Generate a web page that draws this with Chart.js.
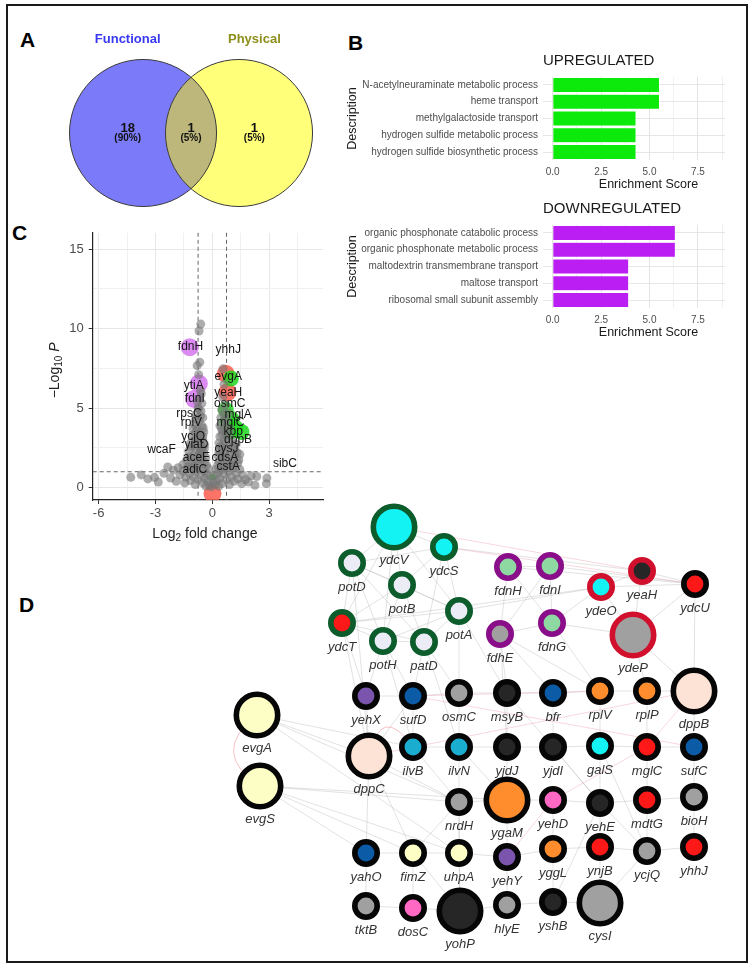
<!DOCTYPE html>
<html>
<head>
<meta charset="utf-8">
<script src="https://cdn.jsdelivr.net/npm/chart.js@4.4.1/dist/chart.umd.min.js"></script>
<style>
  body { margin: 0; background: #fff; width: 754px; height: 968px; position: relative; overflow: hidden; }
  #frame { position: absolute; left: 6px; top: 4px; width: 742px; height: 959px; border: 2px solid #1a1a1a; box-sizing: border-box; }
  canvas { position: absolute; }
  .tag { position: absolute; font: bold 21px "Liberation Sans", Arial, sans-serif; line-height: 1; color: #000; }
</style>
</head>
<body>
<div id="frame"></div>
<div class="tag" style="left:20px; top:29px;">A</div>
<div class="tag" style="left:348px; top:32px;">B</div>
<div class="tag" style="left:12px; top:222px;">C</div>
<div class="tag" style="left:19px; top:594px;">D</div>

<canvas id="venn" width="340" height="225" style="left:0; top:0;"></canvas>
<canvas id="up-chart" width="400" height="150" style="left:340px; top:45px;"></canvas>
<canvas id="down-chart" width="400" height="150" style="left:340px; top:193px;"></canvas>
<canvas id="net-chart" width="515" height="465" style="left:230px; top:495px;"></canvas>
<canvas id="volcano" width="290" height="325" style="left:40px; top:220px;"></canvas>

<script>
// ---- Panel A: Venn ----
const vennSets = ['Functional', 'Physical'];
const vennOnly = [18, 1];
const vennBoth = 1;

// ---- Panel B: enrichment ----
const upTerms = [
    'N-acetylneuraminate metabolic process',
    'heme transport',
    'methylgalactoside transport',
    'hydrogen sulfide metabolic process',
    'hydrogen sulfide biosynthetic process'
];
const upScores = [5.52, 5.52, 4.31, 4.31, 4.31];
const downTerms = [
    'organic phosphonate catabolic process',
    'organic phosphonate metabolic process',
    'maltodextrin transmembrane transport',
    'maltose transport',
    'ribosomal small subunit assembly'
];
const downScores = [6.34, 6.34, 3.93, 3.93, 3.93];
const scoreTicks = [0, 2.5, 5, 7.5];
const scoreGrid = [0, 1.25, 2.5, 3.75, 5, 6.25, 7.5, 8.75];

// ---- Panel C: volcano ----
const greyLFC = [
    -0.61, -0.70, -0.66, -0.80, -0.72, -0.62, -0.55, -0.75, -0.60, -0.85, -0.50, -0.70, -0.95, -0.55, -0.80,
    -0.45, -0.65, -1.05, -0.90, -0.50, -0.70, -1.15, -0.40, -0.60, -0.85, -1.25, -0.45, -0.70, -1.00, -0.35,
    -0.55, -1.35, -0.80, -0.40, -1.10, -0.65, -1.55, -0.30,
    -0.58, -0.68, -0.78, -0.88, -0.62, -0.75, -0.95, -0.58, -0.78, -0.90, -0.48, -0.66, -1.20, -0.52, -0.84,
    -1.02, -1.12, -0.98, -0.72, -0.50, -1.30, -0.42, -0.88, -0.64,
    0.57, 0.62, 0.55, 0.70, 0.50, 0.85, 0.45, 0.65, 0.40, 0.75, 0.55, 0.90, 0.40, 0.65, 1.05, 0.35,
    0.80, 0.50, 1.20, 0.35, 0.65, 0.95, 0.30, 0.50, 1.10, 0.75, 0.35, 1.35, 0.55, 0.90, 0.28,
    0.62, 0.78, 0.48, 0.82, 0.60, 0.90, 0.45, 0.70, 1.00, 0.60, 1.20, 1.45, 0.72, 0.52, 0.86,
    1.05, 1.25, 1.15, 0.95, 1.40, 0.68, 0.42, 1.30,
    -4.30, -3.75, -3.40, -3.05, -2.85, -2.55, -2.35, -2.20, -2.05, -1.90, -1.80, -1.70, -1.55, -1.45, -1.40,
    -1.30, -1.20, -1.15, -1.05, -1.00, -0.90, -0.85, -0.75, -0.65, -0.60, -0.50, -0.45, -0.40, -0.30, -0.25,
    -0.20, -0.15, -0.10, 0.10, 0.15, 0.20, 0.25, 0.30, 0.40, 0.45, 0.50, 0.60, 0.65, 0.75, 0.85,
    0.90, 1.00, 1.10, 1.15, 1.25, 1.35, 1.45, 1.55, 1.60, 1.75, 1.90, 2.05, 2.25, 2.35, 2.88,
    2.85, -0.05, 0.05, -0.35, 0.35
];
const greyLogP = [
    10.28, 9.85, 7.88, 7.67, 7.10, 6.10, 5.30, 5.00, 4.80, 4.60, 4.40, 4.20, 4.00, 3.90, 3.70,
    3.50, 3.40, 3.30, 3.10, 3.00, 2.90, 2.80, 2.70, 2.50, 2.40, 2.30, 2.20, 2.10, 2.00, 1.90,
    1.80, 1.75, 1.70, 1.60, 1.55, 1.50, 1.45, 1.40,
    5.90, 5.60, 5.40, 4.30, 4.50, 3.20, 2.60, 2.30, 1.90, 1.25, 3.75, 3.05, 1.95, 2.55, 3.55,
    3.70, 2.55, 1.45, 4.95, 3.25, 1.30, 2.45, 2.95, 2.25,
    7.47, 6.50, 5.70, 5.20, 4.90, 4.70, 4.40, 4.20, 3.90, 3.80, 3.60, 3.30, 3.20, 3.00, 2.90, 2.80,
    2.60, 2.50, 2.40, 2.30, 2.20, 2.10, 2.00, 1.85, 1.80, 1.70, 1.65, 1.55, 1.50, 1.45, 1.40,
    4.60, 4.30, 3.70, 3.05, 2.75, 2.35, 2.10, 1.95, 1.60, 1.30, 2.00, 2.10, 3.45, 3.35, 1.25,
    2.55, 2.75, 1.40, 3.70, 1.75, 4.00, 2.60, 2.20,
    0.65, 0.80, 0.55, 0.65, 0.35, 0.90, 1.30, 0.60, 1.10, 0.40, 1.25, 0.80, 1.05, 0.30, 0.65,
    1.20, 0.90, 0.45, 1.30, 0.70, 0.20, 1.00, 0.50, 1.25, 0.80, 0.30, 1.05, 0.60, 0.90, 0.40,
    1.20, 0.15, 0.70, 0.75, 0.20, 1.15, 0.45, 0.95, 0.60, 1.10, 0.25, 0.85, 1.30, 0.50, 1.00,
    0.20, 0.70, 1.25, 0.40, 0.90, 0.55, 1.15, 0.25, 0.80, 0.50, 0.35, 0.75, 0.15, 0.70, 0.60,
    0.25, 0.05, 0.30, 0.10, 0.10
];
const purpleLFC = [-1.19, -0.71, -0.96];
const purpleLogP = [8.83, 6.55, 5.58];
const redLFC = [0.71, 0.80, 0.01];
const redLogP = [7.16, 6.00, -0.37];
const greenLFC = [0.98, 0.71, 1.01, 1.24, 0.92, 1.54, 0.78, 0.01];
const greenLogP = [6.86, 4.89, 4.31, 3.74, 3.50, 3.50, 4.11, 0.65];
const geneLabels = ['fdnH', 'yhhJ', 'evgA', 'ytiA', 'yeaH', 'fdnI', 'osmC', 'rpsC', 'mglA', 'rplV', 'mglC',
    'kbp', 'ycjQ', 'dppB', 'yiaD', 'wcaF', 'cysJ', 'aceE', 'cdsA', 'sibC', 'adiC', 'cstA'];
const labelLFC = [-1.15, 0.84, 0.84, -0.98, 0.84, -0.92, 0.92, -1.23, 1.36, -1.10, 0.96,
    1.10, -1.01, 1.36, -0.84, -2.68, 0.75, -0.84, 0.66, 3.83, -0.92, 0.84];
const labelLogP = [8.83, 8.69, 7.00, 6.39, 5.94, 5.58, 5.29, 4.68, 4.56, 4.11, 4.11,
    3.54, 3.19, 2.99, 2.69, 2.38, 2.44, 1.91, 1.87, 1.50, 1.16, 1.30];
const fcCutoff = 0.75;
const pCutoff = 1;
const lfcTicks = [-6, -3, 0, 3];
const lfcGrid = [-6, -4.5, -3, -1.5, 0, 1.5, 3, 4.5];
const logpTicks = [0, 5, 10, 15];
const logpGrid = [0, 2.5, 5, 7.5, 10, 12.5, 15];

// ---- Panel D: network (layout coordinates) ----
const nodeNames = ['ydcV', 'ydcS', 'potD', 'potB', 'fdnH', 'fdnI', 'ydeO', 'yeaH', 'ydcU', 'ydcT', 'potA',
    'fdhE', 'fdnG', 'ydeP', 'potH', 'patD', 'yehX', 'sufD', 'osmC', 'msyB', 'bfr', 'rplV', 'rplP', 'dppB',
    'evgA', 'dppC', 'ilvB', 'ilvN', 'yjdJ', 'yjdI', 'galS', 'mglC', 'sufC', 'evgS', 'nrdH', 'ygaM', 'yehD',
    'yehE', 'mdtG', 'bioH', 'yahO', 'fimZ', 'uhpA', 'yehY', 'yggL', 'ynjB', 'ycjQ', 'yhhJ', 'tktB', 'dosC',
    'yohP', 'hlyE', 'yshB', 'cysI'];
const nodeX = [164, 214, 122, 172, 278, 320, 371, 412, 465, 112, 229,
    270, 322, 403, 153, 194, 136, 183, 229, 277, 323, 370, 417, 464,
    27, 139, 183, 229, 277, 323, 370, 417, 464, 30, 229, 277, 323,
    370, 417, 464, 136, 183, 229, 277, 323, 370, 417, 464, 136, 183,
    230, 277, 323, 370];
const nodeY = [32, 52, 68, 90, 72, 71, 92, 76, 89, 128, 116,
    139, 128, 140, 146, 147, 201, 201, 198, 198, 198, 196, 196, 196,
    220, 261, 252, 252, 252, 252, 251, 252, 252, 291, 307, 305, 305,
    308, 305, 302, 358, 358, 358, 362, 354, 352, 356, 352, 411, 413,
    416, 410, 407, 408];
const nodeSize = [2, 1, 1, 1, 1, 1, 1, 1, 1, 1, 1,
    1, 1, 2, 1, 1, 1, 1, 1, 1, 1, 1, 1, 2,
    2, 2, 1, 1, 1, 1, 1, 1, 1, 2, 1, 2, 1,
    1, 1, 1, 1, 1, 1, 1, 1, 1, 1, 1, 1, 1,
    2, 1, 1, 2];
const nodeModule = ['pot', 'pot', 'pot', 'pot', 'fdn', 'fdn', 'yde', 'yde', 'core', 'pot', 'pot',
    'fdn', 'fdn', 'yde', 'pot', 'pot', 'core', 'core', 'core', 'core', 'core', 'core', 'core', 'core',
    'core', 'core', 'core', 'core', 'core', 'core', 'core', 'core', 'core', 'core', 'core', 'core', 'core',
    'core', 'core', 'core', 'core', 'core', 'core', 'core', 'core', 'core', 'core', 'core', 'core', 'core',
    'core', 'core', 'core', 'core'];
const nodeClass = ['cyan', 'cyan', 'lav', 'lav', 'mint', 'mint', 'cyan', 'dark', 'red', 'red', 'lav',
    'grey', 'mint', 'grey', 'lav', 'lav', 'violet', 'blue', 'grey', 'dark', 'blue', 'orange', 'orange', 'peach',
    'cream', 'peach', 'teal', 'teal', 'dark', 'dark', 'cyan', 'red', 'blue', 'cream', 'grey', 'orange', 'pink',
    'dark', 'red', 'grey', 'blue', 'cream', 'cream', 'violet', 'orange', 'red', 'grey', 'red', 'grey', 'pink',
    'dark', 'grey', 'dark', 'grey'];
const netEdges = [
    ['ydcV', 'ydcS'], ['ydcV', 'potD'], ['ydcV', 'potB'], ['ydcV', 'potA'], ['ydcV', 'ydcT'], ['ydcV', 'potH'],
    ['ydcS', 'potB'], ['ydcS', 'potA'], ['ydcS', 'potD'], ['ydcS', 'patD'], ['potD', 'potB'], ['potD', 'ydcT'],
    ['potD', 'potH'], ['potD', 'potA'], ['potD', 'patD'], ['potB', 'potA'], ['potB', 'potH'], ['potB', 'patD'],
    ['potB', 'ydcT'], ['potA', 'patD'], ['potA', 'potH'], ['potA', 'ydcT'], ['ydcT', 'potH'], ['ydcT', 'patD'],
    ['potH', 'patD'], ['potA', 'ydeO'], ['ydcT', 'ydeO'], ['ydcS', 'yeaH'],
    ['fdnH', 'fdnI'], ['fdnH', 'fdnG'], ['fdnH', 'fdhE'], ['fdnI', 'fdnG'], ['fdnI', 'fdhE'], ['fdnG', 'fdhE'],
    ['fdnH', 'ydcU'], ['fdnI', 'ydcU'], ['fdnG', 'ydeO'], ['ydeO', 'yeaH'], ['ydeO', 'ydeP'], ['yeaH', 'ydeP'],
    ['ydeO', 'ydcU'], ['yeaH', 'ydcU'], ['ydeP', 'ydcU'], ['ydeP', 'fdnG'],
    ['ydcT', 'yehX'], ['potH', 'yehX'], ['potH', 'sufD'], ['patD', 'sufD'], ['patD', 'osmC'], ['potA', 'osmC'],
    ['potA', 'msyB'], ['fdhE', 'msyB'], ['fdhE', 'bfr'], ['fdhE', 'rplV'], ['fdnG', 'rplV'], ['ydeP', 'rplP'],
    ['ydcU', 'dppB'], ['ydeP', 'dppB'], ['potD', 'dppC'], ['ydcT', 'dppC'], ['potH', 'ilvB'], ['patD', 'ilvN'],
    ['fdhE', 'yjdJ'], ['yehX', 'sufD'], ['sufD', 'osmC'], ['osmC', 'msyB'], ['msyB', 'bfr'], ['bfr', 'rplV'],
    ['rplV', 'rplP'], ['rplP', 'dppB'], ['yehX', 'dppC'], ['sufD', 'dppC'], ['sufD', 'ilvB'], ['osmC', 'ilvN'],
    ['msyB', 'yjdJ'], ['bfr', 'yjdI'], ['rplV', 'galS'], ['rplP', 'mglC'], ['dppB', 'sufC'],
    ['ilvB', 'ilvN'], ['ilvN', 'yjdJ'], ['yjdJ', 'yjdI'], ['yjdI', 'galS'], ['galS', 'mglC'], ['mglC', 'sufC'],
    ['evgA', 'dppC'], ['evgA', 'ilvB'], ['evgA', 'nrdH'], ['evgA', 'uhpA'], ['evgS', 'fimZ'], ['evgS', 'uhpA'],
    ['evgS', 'nrdH'], ['evgS', 'yahO'], ['evgS', 'ygaM'], ['dppC', 'yahO'], ['dppC', 'fimZ'], ['dppC', 'nrdH'],
    ['ilvB', 'nrdH'], ['ilvN', 'nrdH'], ['ilvN', 'ygaM'], ['yjdJ', 'ygaM'], ['yjdI', 'yehE'], ['galS', 'yehE'],
    ['galS', 'ycjQ'], ['mglC', 'mdtG'], ['sufC', 'bioH'], ['msyB', 'yehE'], ['nrdH', 'ygaM'], ['ygaM', 'yehD'],
    ['yehD', 'yehE'], ['yehE', 'mdtG'], ['mdtG', 'bioH'], ['nrdH', 'uhpA'], ['nrdH', 'fimZ'], ['ygaM', 'yehY'],
    ['yehD', 'yggL'], ['yehE', 'ynjB'], ['yehE', 'ycjQ'], ['mdtG', 'ycjQ'], ['bioH', 'yhhJ'], ['yahO', 'fimZ'],
    ['fimZ', 'uhpA'], ['uhpA', 'yehY'], ['yehY', 'yggL'], ['yggL', 'ynjB'], ['ynjB', 'ycjQ'], ['ycjQ', 'yhhJ'],
    ['yahO', 'tktB'], ['fimZ', 'dosC'], ['uhpA', 'yohP'], ['fimZ', 'yohP'], ['nrdH', 'yohP'], ['yehY', 'hlyE'],
    ['yggL', 'yshB'], ['ynjB', 'cysI'], ['yehE', 'yshB'], ['ycjQ', 'cysI'], ['tktB', 'dosC'], ['dosC', 'yohP'],
    ['yohP', 'hlyE'], ['hlyE', 'yshB'], ['yshB', 'cysI']
];
const netEdgesRed = [
    ['ydcV', 'yeaH'], ['ydcS', 'ydcU'], ['dppB', 'dppC'], ['sufD', 'sufC'], ['sufD', 'rplV'], ['dppB', 'mglC'],
    ['mglC', 'yehD'], ['yehD', 'yehY']
];
const netCurved = [['evgS', 'evgA'], ['dppC', 'ilvB']];

// ---- styles ----
const FONT = '"Liberation Sans", Arial, sans-serif';
Chart.defaults.font.family = FONT;
Chart.defaults.animation = false;
Chart.defaults.responsive = false;
Chart.defaults.plugins.legend.display = false;
Chart.defaults.plugins.tooltip.enabled = false;

const ringColors = { pot: '#0c5c2c', fdn: '#8a0e8a', yde: '#d0102c', core: '#060606' };
const fillColors = {
    cyan: '#14f3f3', lav: '#ececf6', mint: '#8ed9a2', dark: '#262626', red: '#ff1818', grey: '#a0a0a0',
    violet: '#7b55ad', blue: '#0b5ba6', orange: '#ff8d2e', peach: '#fde2d6', cream: '#fdfdc6',
    teal: '#1aadd0', pink: '#ff68c3'
};

function drawRich(ctx, parts, cx, cy) {
    let total = 0;
    parts.forEach(p => { ctx.font = p.font; p.w = ctx.measureText(p.t).width; total += p.w; });
    let x = cx - total / 2;
    ctx.textAlign = 'left';
    ctx.textBaseline = 'alphabetic';
    parts.forEach(p => { ctx.font = p.font; ctx.fillText(p.t, x, cy + (p.dy || 0)); x += p.w; });
}

/**
 * Panel A - Venn
 */
const vennRadius = 0.766;
const vennLabelShift = 0.16;

new Chart(document.getElementById('venn'), {
    type: 'scatter',
    data: { datasets: [{ data: [{ x: 0, y: 0 }, { x: 1, y: 0 }], pointRadius: 0 }] },
    options: {
        layout: { padding: 0, autoPadding: false },
        scales: {
            x: { display: false, min: -1.49, max: 2.052 },
            y: { display: false, min: -0.958, max: 1.385 }
        }
    },
    plugins: [{
        id: 'vennDraw',
        afterDatasetsDraw(chart) {
            const ctx = chart.ctx;
            const xs = chart.scales.x, ys = chart.scales.y;
            const pts = chart.data.datasets[0].data;
            const c = pts.map(p => ({ x: xs.getPixelForValue(p.x), y: ys.getPixelForValue(p.y) }));
            const r = xs.getPixelForValue(vennRadius) - xs.getPixelForValue(0);
            const circle = (p) => { ctx.beginPath(); ctx.arc(p.x, p.y, r, 0, Math.PI * 2); };
            ctx.save();
            circle(c[0]); ctx.fillStyle = '#7b7bfa'; ctx.fill();
            circle(c[1]); ctx.fillStyle = '#ffff7a'; ctx.fill();
            ctx.save();
            circle(c[0]); ctx.clip();
            circle(c[1]); ctx.fillStyle = '#bdb77b'; ctx.fill();
            ctx.restore();
            ctx.strokeStyle = '#3a3a3a'; ctx.lineWidth = 1;
            circle(c[0]); ctx.stroke();
            circle(c[1]); ctx.stroke();

            const total = vennOnly[0] + vennOnly[1] + vennBoth;
            const counts = [vennOnly[0], vennBoth, vennOnly[1]];
            const lx = [
                xs.getPixelForValue(pts[0].x - vennLabelShift),
                xs.getPixelForValue((pts[0].x + pts[1].x) / 2),
                xs.getPixelForValue(pts[1].x + vennLabelShift)
            ];
            ctx.fillStyle = '#111';
            ctx.textAlign = 'center';
            ctx.textBaseline = 'middle';
            counts.forEach((n, i) => {
                ctx.font = 'bold 13px ' + FONT;
                ctx.fillText(String(n), lx[i], c[0].y - 5);
                ctx.font = 'bold 10px ' + FONT;
                ctx.fillText('(' + Math.round(n / total * 100) + '%)', lx[i], c[0].y + 5);
            });
            ctx.font = 'bold 13px ' + FONT;
            ctx.fillStyle = '#3838f2';
            ctx.fillText(vennSets[0], lx[0], c[0].y - 94);
            ctx.fillStyle = '#8e8e1c';
            ctx.fillText(vennSets[1], lx[2], c[0].y - 94);
            ctx.restore();
        }
    }]
});

/**
 * Panel B - enrichment bars
 */
function makeEnrichChart(id, title, terms, scores, color) {
    new Chart(document.getElementById(id), {
        type: 'bar',
        data: {
            labels: terms,
            datasets: [{
                data: scores,
                backgroundColor: color,
                borderColor: '#ffffff',
                borderWidth: 0.6,
                categoryPercentage: 0.9,
                barPercentage: 1
            }]
        },
        options: {
            indexAxis: 'y',
            layout: { padding: { top: 31.6, right: 15, left: 0, bottom: 0 } },
            scales: {
                x: {
                    min: -0.5, max: 8.9,
                    afterBuildTicks: s => { s.ticks = scoreGrid.map(v => ({ value: v })); },
                    afterFit: s => { s.height = 34.6; },
                    ticks: {
                        autoSkip: false, maxRotation: 0, padding: 6,
                        color: '#4d4d4d', font: { size: 10 },
                        callback: v => scoreTicks.includes(v) ? v.toFixed(1) : ''
                    },
                    grid: {
                        drawTicks: false,
                        color: c => scoreTicks.includes(c.tick.value) ? '#e4e4e4' : '#f1f1f1'
                    },
                    border: { display: false }
                },
                y: {
                    afterFit: s => { s.width = 203; },
                    ticks: { color: '#4d4d4d', font: { size: 10 }, padding: 5 },
                    grid: { offset: false, drawTicks: false, color: '#e6e6e6' },
                    border: { display: false }
                }
            }
        },
        plugins: [{
            id: 'enrichText',
            afterDraw(chart) {
                const ctx = chart.ctx, a = chart.chartArea;
                ctx.save();
                ctx.fillStyle = '#1a1a1a';
                ctx.textBaseline = 'middle';
                ctx.textAlign = 'left';
                ctx.font = '15px ' + FONT;
                ctx.fillText(title, a.left, 16);
                ctx.textAlign = 'center';
                ctx.font = '12.5px ' + FONT;
                ctx.fillText('Enrichment Score', 308.5, 139.5);
                ctx.translate(13, (a.top + a.bottom) / 2);
                ctx.rotate(-Math.PI / 2);
                ctx.fillText('Description', 0, 0);
                ctx.restore();
            }
        }]
    });
}
makeEnrichChart('up-chart', 'UPREGULATED', upTerms, upScores, '#0bea0b');
makeEnrichChart('down-chart', 'DOWNREGULATED', downTerms, downScores, '#bb1ef3');

/**
 * Panel C - volcano
 */
const toPts = (xs, ys) => xs.map((x, i) => ({ x: x, y: ys[i] }));

new Chart(document.getElementById('volcano'), {
    type: 'scatter',
    data: {
        datasets: [
            { data: toPts(greyLFC, greyLogP), backgroundColor: 'rgba(118,118,118,0.6)', pointRadius: 4.5, borderWidth: 0 },
            { data: toPts(greenLFC, greenLogP), backgroundColor: 'rgba(30,215,30,0.85)', borderWidth: 0,
              pointRadius: c => (c.raw && c.raw.y < 1) ? 3.5 : 8 },
            { data: toPts(redLFC, redLogP), backgroundColor: 'rgba(250,92,76,0.85)', pointRadius: 9, borderWidth: 0 },
            { data: toPts(purpleLFC, purpleLogP), backgroundColor: 'rgba(214,125,240,0.9)', pointRadius: 9, borderWidth: 0 }
        ]
    },
    options: {
        layout: { padding: { top: 5, right: 7, left: 0, bottom: 0 }, autoPadding: false },
        scales: {
            x: {
                min: -6.31, max: 5.84,
                afterBuildTicks: s => { s.ticks = lfcGrid.map(v => ({ value: v })); },
                afterFit: s => { s.height = 45; },
                ticks: {
                    autoSkip: false, maxRotation: 0, padding: 2, color: '#4d4d4d', font: { size: 13 },
                    callback: v => lfcTicks.includes(v) ? String(v) : ''
                },
                grid: {
                    color: c => lfcTicks.includes(c.tick.value) ? '#e6e6e6' : '#f0f0f0',
                    tickColor: c => lfcTicks.includes(c.tick.value) ? '#333' : 'rgba(0,0,0,0)',
                    tickLength: 4
                },
                border: { display: true, color: '#222', width: 1.2 }
            },
            y: {
                min: -0.776, max: 16.02,
                afterBuildTicks: s => { s.ticks = logpGrid.map(v => ({ value: v })); },
                afterFit: s => { s.width = 52.7; },
                ticks: {
                    autoSkip: false, padding: 5, color: '#4d4d4d', font: { size: 13 },
                    callback: v => logpTicks.includes(v) ? String(v) : ''
                },
                grid: {
                    color: c => logpTicks.includes(c.tick.value) ? '#e6e6e6' : '#f0f0f0',
                    tickColor: c => logpTicks.includes(c.tick.value) ? '#333' : 'rgba(0,0,0,0)',
                    tickLength: 4
                },
                border: { display: true, color: '#222', width: 1.2 }
            }
        }
    },
    plugins: [{
        id: 'cutoffs',
        beforeDatasetsDraw(chart) {
            const ctx = chart.ctx, a = chart.chartArea, xs = chart.scales.x, ys = chart.scales.y;
            ctx.save();
            ctx.strokeStyle = '#666';
            ctx.lineWidth = 1;
            ctx.setLineDash([4, 3]);
            [-fcCutoff, fcCutoff].forEach(v => {
                const px = xs.getPixelForValue(v);
                ctx.beginPath(); ctx.moveTo(px, a.top); ctx.lineTo(px, a.bottom); ctx.stroke();
            });
            const py = ys.getPixelForValue(pCutoff);
            ctx.beginPath(); ctx.moveTo(a.left, py); ctx.lineTo(a.right, py); ctx.stroke();
            ctx.restore();
        },
        afterDraw(chart) {
            const ctx = chart.ctx, a = chart.chartArea, xs = chart.scales.x, ys = chart.scales.y;
            ctx.save();
            ctx.fillStyle = '#141414';
            ctx.font = '12px ' + FONT;
            ctx.textAlign = 'center';
            ctx.textBaseline = 'middle';
            geneLabels.forEach((g, i) => {
                ctx.fillText(g, xs.getPixelForValue(labelLFC[i]), ys.getPixelForValue(labelLogP[i]));
            });
            ctx.fillStyle = '#222';
            const f = '14px ' + FONT;
            drawRich(ctx, [
                { t: 'Log', font: f }, { t: '2', font: '10px ' + FONT, dy: 3 }, { t: ' fold change', font: f }
            ], (a.left + a.right) / 2 - 3, 317.7);
            ctx.translate(14, (a.top + a.bottom) / 2 + 4);
            ctx.rotate(-Math.PI / 2);
            drawRich(ctx, [
                { t: '\u2212Log', font: f }, { t: '10', font: '10px ' + FONT, dy: 3 },
                { t: ' ', font: f }, { t: 'P', font: 'italic 14px ' + FONT }
            ], 0, 5);
            ctx.restore();
        }
    }]
});

/**
 * Panel D - network
 */
const nodeIndex = {};
nodeNames.forEach((n, i) => { nodeIndex[n] = i; });
const outerR = s => s === 2 ? 23.5 : 14;
const RING = 5.6;

new Chart(document.getElementById('net-chart'), {
    type: 'scatter',
    data: {
        datasets: [{
            data: nodeNames.map((n, i) => ({ x: nodeX[i], y: nodeY[i] })),
            pointRadius: nodeSize.map(s => outerR(s) - RING / 2),
            pointBorderWidth: RING,
            pointBackgroundColor: nodeClass.map(c => fillColors[c]),
            pointBorderColor: nodeModule.map(m => ringColors[m])
        }]
    },
    options: {
        layout: { padding: 0, autoPadding: false },
        clip: false,
        scales: {
            x: { display: false, min: 0, max: 515 },
            y: { display: false, min: 0, max: 465, reverse: true }
        }
    },
    plugins: [{
        id: 'netEdges',
        beforeDatasetsDraw(chart) {
            const ctx = chart.ctx, xs = chart.scales.x, ys = chart.scales.y;
            const P = n => ({ x: xs.getPixelForValue(nodeX[nodeIndex[n]]), y: ys.getPixelForValue(nodeY[nodeIndex[n]]) });
            ctx.save();
            ctx.lineWidth = 1;
            ctx.strokeStyle = 'rgba(180,180,180,0.38)';
            netEdges.forEach(e => {
                const a = P(e[0]), b = P(e[1]);
                ctx.beginPath(); ctx.moveTo(a.x, a.y); ctx.lineTo(b.x, b.y); ctx.stroke();
            });
            ctx.strokeStyle = 'rgba(236,150,165,0.38)';
            netEdgesRed.forEach(e => {
                const a = P(e[0]), b = P(e[1]);
                ctx.beginPath(); ctx.moveTo(a.x, a.y); ctx.lineTo(b.x, b.y); ctx.stroke();
            });
            ctx.strokeStyle = 'rgba(236,140,150,0.55)';
            netCurved.forEach(e => {
                const a = P(e[0]), b = P(e[1]);
                const mx = (a.x + b.x) / 2, my = (a.y + b.y) / 2;
                const dx = b.x - a.x, dy = b.y - a.y, len = Math.hypot(dx, dy);
                ctx.beginPath();
                ctx.moveTo(a.x, a.y);
                ctx.quadraticCurveTo(mx + dy / len * 50, my - dx / len * 50, b.x, b.y);
                ctx.stroke();
            });
            ctx.restore();
        },
        afterDatasetsDraw(chart) {
            const ctx = chart.ctx, xs = chart.scales.x, ys = chart.scales.y;
            ctx.save();
            ctx.fillStyle = '#333';
            ctx.font = 'italic 13px ' + FONT;
            ctx.textAlign = 'center';
            ctx.textBaseline = 'middle';
            nodeNames.forEach((n, i) => {
                ctx.fillText(n, xs.getPixelForValue(nodeX[i]), ys.getPixelForValue(nodeY[i]) + outerR(nodeSize[i]) + 10);
            });
            ctx.restore();
        }
    }]
});
</script>
</body>
</html>
